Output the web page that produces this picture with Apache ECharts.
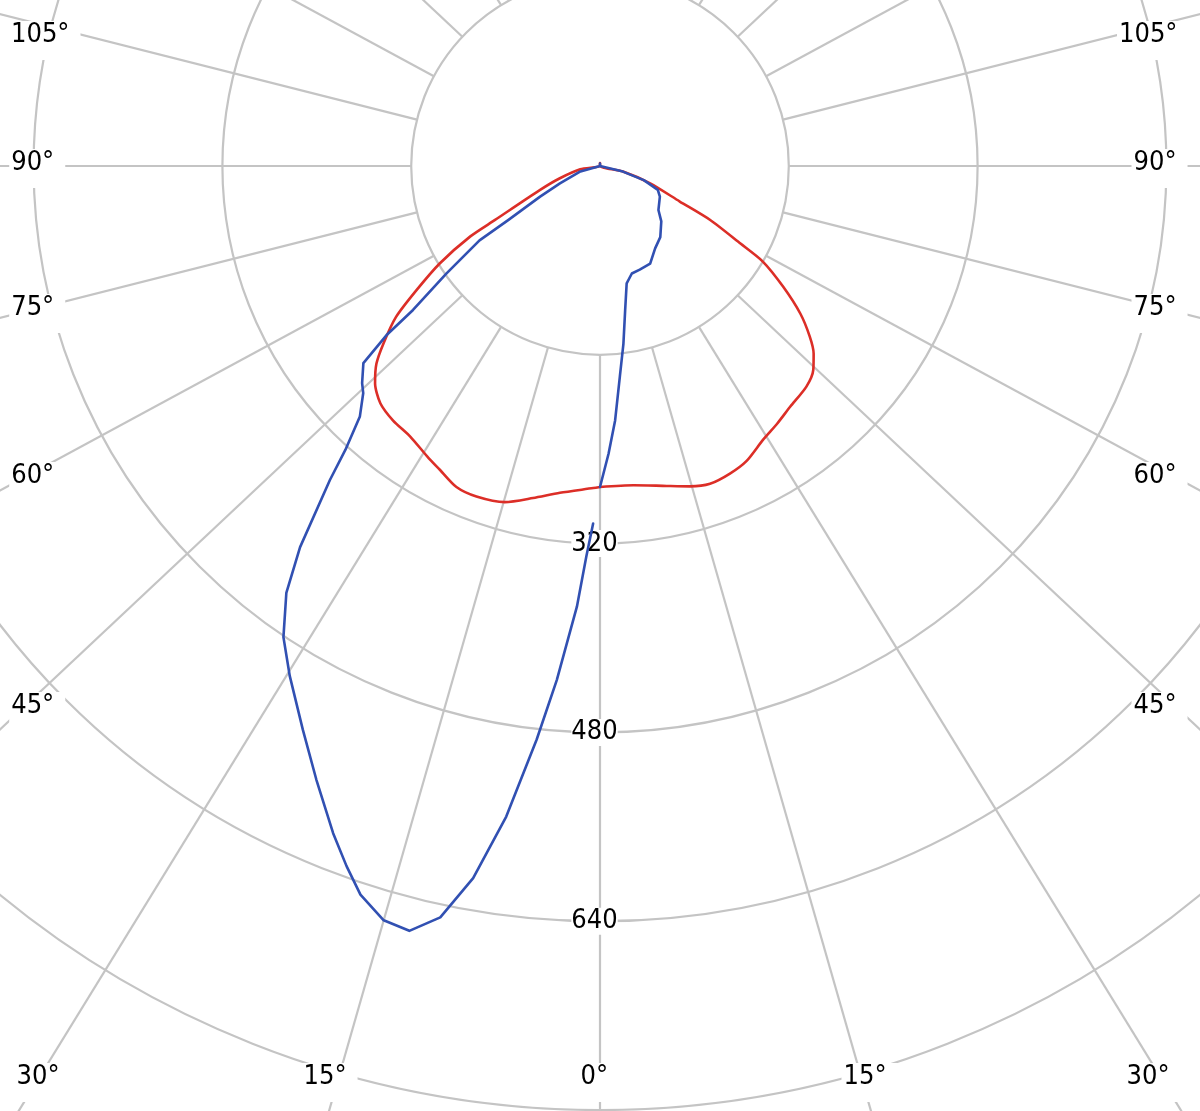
<!DOCTYPE html>
<html>
<head>
<meta charset="utf-8">
<script src="https://cdn.jsdelivr.net/npm/echarts@6/dist/echarts.min.js"></script>
<style>
html,body{margin:0;padding:0;background:#fff;}
#chart{width:1200px;height:1111px;}
</style>
</head>
<body>
<div id="chart"></div>
<script>
// ---------- data ----------
// radial grid
const radiusMax = 960;
const radiusStep = 160;
const spokeStart = 160;
// screen angles of the spokes, measured from the downward axis
const spokeAngles = [0, 16, 31.6, 46.8, 61.6, 75.8, 90, 104.2, 118.4, 133.2, 148.4, 164, 180];
// radius tick labels shown along the 0° spoke
const radiusLabels = [320, 480, 640];
// angle tick labels along the picture border
const leftLabels = ['105°', '90°', '75°', '60°', '45°'];
const bottomLabels = ['30°', '15°', '0°', '15°', '30°'];
const rightLabels = ['105°', '90°', '75°', '60°', '45°'];

// red curve, left half (angle from nadir, intensity)
const redLeftAngle = [0, 1.2, 7.0, 11.4, 15.8, 20.5, 24.1, 27.8, 30.4, 35.1, 39.1, 42.8, 46.0, 48.5, 50.7, 53.5, 55.9, 58.7, 61.5, 62.8, 68.2, 72.9, 80.6, 90];
const redLeftValue = [272, 273, 279, 287, 296, 299, 298, 291, 287, 280, 278, 274, 265, 253, 237, 215, 188, 159, 125, 100, 55, 36, 17, 0];
// red curve, right half
const redRightAngle = [0, 6.0, 11.8, 15.7, 19.1, 22.9, 26.5, 30.8, 34.5, 38.3, 43.1, 46.3, 48.7, 50.9, 53.6, 56.6, 59.6, 61.1, 63.9, 66.0, 70.9, 76.3, 90];
const redRightValue = [272, 272, 277, 282, 285, 283, 279, 270, 265, 260, 256, 250, 241, 229, 211, 186, 160, 136, 104, 74, 45, 20, 0];
const redTopValue = 2.5;

// blue curve, left half
const blueLeftAngle = [1.1, 2.0, 3.0, 4.8, 6.3, 8.2, 10.1, 12.0, 14.0, 16.0, 18.2, 19.9, 21.8, 24.8, 27.8, 31.3, 33.9, 36.3, 38.2, 40.7, 41.9, 43.8, 46.2, 47.6, 50.2, 51.6, 52.4, 55.0, 58.3, 59.5, 62.9, 66.6, 74.1, 90];
const blueLeftValue = [303, 331, 374, 437, 489, 557, 613, 651, 668, 665, 650, 631, 609, 573, 540, 506, 481, 449, 411, 351, 323, 294, 278, 273, 261, 231, 200, 159, 120, 90, 57, 37, 18, 0];
// blue curve, right half
const blueRightAngle = [0, 1.7, 3.4, 5.4, 7.5, 9.9, 12.8, 16.5, 21.0, 27.2, 33.8, 40.3, 47.9, 53.0, 62.9, 67.6, 72.1, 76.3, 90];
const blueRightValue = [272, 244, 216, 179, 152, 124, 102, 95, 94, 93, 84, 79, 70, 62, 57, 53, 39, 20, 0];
const blueTopValue = 2;

// ---------- layout / style ----------
const CENTER = [600, 166];
const PX_PER_UNIT = 1.18;
const GRID_COLOR = '#c4c4c4';
const RED = '#dc2e27';
const BLUE = '#3150b2';
const FONT = '27px "DejaVu Sans Condensed", "Liberation Sans", sans-serif';

function buildCurve(leftA, leftV, topV, rightA, rightV) {
  const out = [];
  for (let i = 0; i < leftA.length; i++) out.push([leftV[i], leftA[i]]);
  out.push([topV, 180]);
  for (let i = rightA.length - 1; i >= 0; i--) out.push([rightV[i], 360 - rightA[i]]);
  return out;
}

const series = [];
spokeAngles.forEach(function (s) {
  const angs = (s === 0 || s === 180) ? [s] : [s, 360 - s];
  angs.forEach(function (a) {
    series.push({
      type: 'line', coordinateSystem: 'polar', silent: true, symbol: 'none', z: 1,
      lineStyle: { color: GRID_COLOR, width: 2.2 },
      data: [[spokeStart, a], [radiusMax, a]]
    });
  });
});
series.push({
  type: 'line', coordinateSystem: 'polar', silent: true, symbol: 'none', z: 3,
  smooth: 0.25,
  lineStyle: { color: RED, width: 2.6, join: 'round', cap: 'round' },
  data: buildCurve(redLeftAngle, redLeftValue, redTopValue, redRightAngle, redRightValue)
});
series.push({
  type: 'line', coordinateSystem: 'polar', silent: true, symbol: 'none', z: 3,
  lineStyle: { color: BLUE, width: 2.6, join: 'round', cap: 'round' },
  data: buildCurve(blueLeftAngle, blueLeftValue, blueTopValue, blueRightAngle, blueRightValue)
});

const chart = echarts.init(document.getElementById('chart'), null, { renderer: 'canvas' });
chart.setOption({
  animation: false,
  backgroundColor: '#ffffff',
  polar: { center: CENTER, radius: radiusMax * PX_PER_UNIT },
  angleAxis: {
    type: 'value', min: 0, max: 360, startAngle: 270, clockwise: true,
    axisLine: { show: false }, axisTick: { show: false }, axisLabel: { show: false },
    splitLine: { show: false }
  },
  radiusAxis: {
    type: 'value', min: 0, max: radiusMax, interval: radiusStep,
    axisLine: { show: false }, axisTick: { show: false }, axisLabel: { show: false },
    splitLine: { show: true, lineStyle: { color: GRID_COLOR, width: 2.2 } }
  },
  series: series
});

// ---------- text labels ----------
function boxLabel(text, glyphLeft, cy) {
  return {
    type: 'text', z: 2, x: glyphLeft - 3.5, y: cy - 11,
    style: {
      text: text, font: FONT, fill: '#000',
      backgroundColor: '#fff', padding: [0, 11, 12, 2], lineHeight: 27,
      align: 'left', verticalAlign: 'top'
    }
  };
}
const graphics = [];
const leftYs = [32, 160, 305, 473, 703];
const leftXs = [12.5, 12.7, 12.7, 12.7, 12.7];
leftLabels.forEach(function (t, i) { graphics.push(boxLabel(t, leftXs[i], leftYs[i])); });
const rightXs = [1120.5, 1135, 1135, 1135, 1135];
rightLabels.forEach(function (t, i) { graphics.push(boxLabel(t, rightXs[i], leftYs[i])); });
const bottomXs = [18, 305, 582, 845, 1128];
bottomLabels.forEach(function (t, i) { graphics.push(boxLabel(t, bottomXs[i], 1074)); });

radiusLabels.forEach(function (v) {
  const p = chart.convertToPixel({ seriesIndex: 0 }, [v, 0]);
  graphics.push({
    type: 'text', z: 2, x: p[0] - 5.5, y: p[1],
    style: {
      text: String(v), font: FONT, fill: '#000',
      backgroundColor: '#fff', padding: 0, lineHeight: 27,
      align: 'center', verticalAlign: 'middle'
    }
  });
});
chart.setOption({ graphic: graphics });
</script>
</body>
</html>
